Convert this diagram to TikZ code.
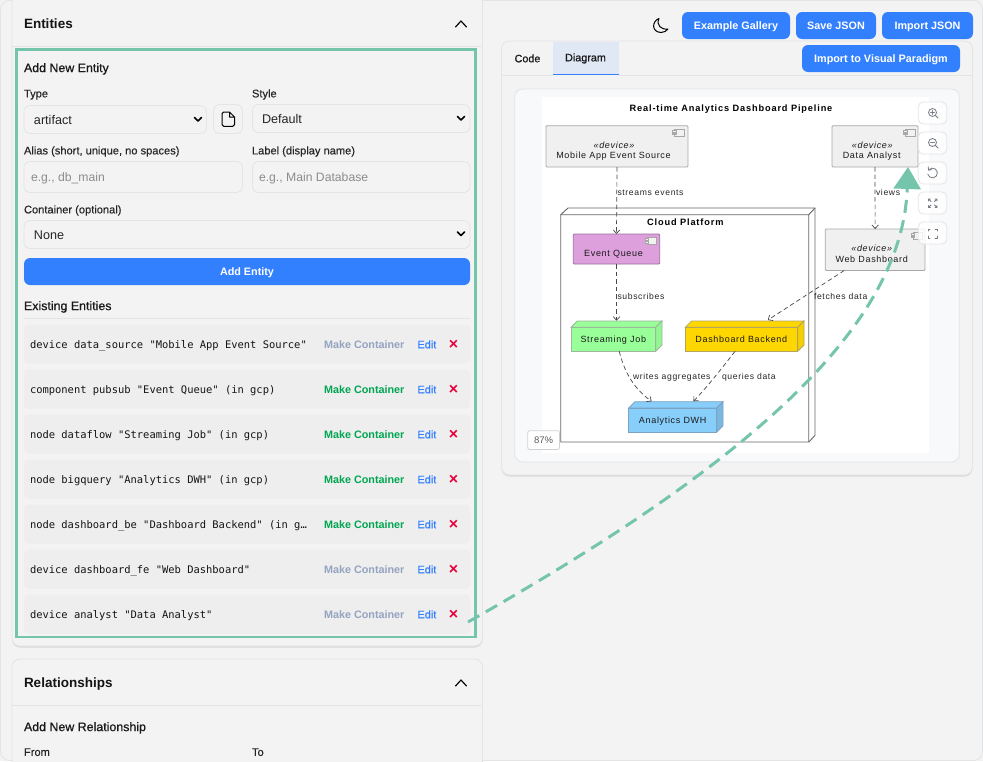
\documentclass[tikz,border=0pt]{standalone}
\usepackage{fontspec}
\usetikzlibrary{arrows.meta,calc,shadows}
\setmainfont{Liberation Sans}
\newfontfamily\medf[FakeBold=0.2]{Liberation Sans}
\newfontfamily\semif[FakeBold=0.7]{Liberation Sans}
\newfontfamily\monof{DejaVu Sans Mono}
\newfontfamily\diaf[LetterSpace=7.5]{Liberation Sans}
\newfontfamily\diab[LetterSpace=9.4,BoldFont={Liberation Sans Bold}]{Liberation Sans}
\newcommand{\fsz}[1]{\fontsize{#1}{#1}\selectfont}
\definecolor{pagebg}{HTML}{F3F3F4}
\definecolor{edgeg}{HTML}{E3E4E6}
\definecolor{accent}{HTML}{74C5AC}
\definecolor{uiblue}{HTML}{3380FF}
\definecolor{rowbg}{HTML}{EEEEEF}
\definecolor{mute}{HTML}{94A3BF}
\definecolor{okgreen}{HTML}{00A650}
\definecolor{xred}{HTML}{E8003A}
\definecolor{hint}{HTML}{8C8C8C}
\definecolor{cardbg}{HTML}{F8F9FB}
\definecolor{boxline}{HTML}{A8A8A8}
\definecolor{iconc}{HTML}{777C85}
\definecolor{tabbg}{HTML}{E0E7F5}
\definecolor{queuefill}{HTML}{DDA0DD}
\definecolor{queueline}{HTML}{9A709A}
\definecolor{jobfill}{HTML}{99FF99}
\definecolor{jobside}{HTML}{93F593}
\definecolor{jobline}{HTML}{9DB89D}
\definecolor{bkfill}{HTML}{FFD700}
\definecolor{bkside}{HTML}{F5CF00}
\definecolor{bkline}{HTML}{B3A560}
\definecolor{dwhfill}{HTML}{87CEFA}
\definecolor{dwhside}{HTML}{7AB8E0}
\definecolor{dwhline}{HTML}{7BA3C4}
\newcounter{tn}
\newcommand{\T}[4]{\stepcounter{tn}\node[#1] (t\arabic{tn}) at (#2,#3) {#4};}
\newcommand{\N}[7]{\node[box,#2,minimum width={(#5-#3)*1pt},minimum height={(#6-#4)*1pt}] (#1) at ({(#3+#5)/2},{(#4+#6)/2}) {#7};}
\newcommand{\CompIcon}[2]{%
  \draw[boxline,line width=.8pt,fill=black!5] (#1-9.5,#2) rectangle (#1,#2+7);
  \draw[boxline,line width=.7pt,fill=black!5] (#1-11.5,#2+1.2) rectangle (#1-8,#2+3);
  \draw[boxline,line width=.7pt,fill=black!5] (#1-11.5,#2+4) rectangle (#1-8,#2+5.8);}
\newcommand{\Cube}[9]{%
  \filldraw[draw=#9,fill=#7,line width=.8pt] (#2,#3) -- (#2+#6,#3-#6) -- (#4+#6,#3-#6) -- (#4,#3) -- cycle;
  \filldraw[draw=#9,fill=#8,line width=.8pt] (#4,#3) -- (#4+#6,#3-#6) -- (#4+#6,#5-#6) -- (#4,#5) -- cycle;
  \N{#1}{draw=#9,fill=#7,line width=.8pt}{#2}{#3}{#4}{#5}{}}
\tikzset{
  box/.style={rectangle,inner sep=0pt,outer sep=0pt},
  lefttext/.style={anchor=base west,inner sep=0pt,outer sep=0pt},
  midtext/.style={anchor=base,inner sep=0pt,outer sep=0pt},
  cardtitle/.style={lefttext,yshift=-5.2pt,font=\bfseries\fsz{13.5},text=black!92},
  subtitle/.style={lefttext,yshift=-4.6pt,font=\semif\fsz{12.4},text=black!90},
  fieldlabel/.style={lefttext,yshift=-3.9pt,font=\medf\fsz{11.1},text=black!85},
  fieldval/.style={lefttext,yshift=-4.9pt,font=\fsz{12.6},text=black!85},
  placeholder/.style={lefttext,yshift=-4.7pt,font=\fsz{12.2},text=hint},
  field/.style={draw=edgeg,fill=pagebg,line width=.8pt,rounded corners=5.5pt},
  card/.style={draw=edgeg,fill=pagebg,line width=.8pt,rounded corners=8pt,drop shadow={shadow xshift=0pt,shadow yshift=-1.5pt,opacity=.22}},
  bluebtn/.style={fill=uiblue,rounded corners=6pt,text=white,font=\bfseries\fsz{10.8},text height=8pt,text depth=0pt},
  rowbox/.style={fill=rowbg,rounded corners=4pt},
  monotext/.style={lefttext,yshift=-4.3pt,font=\monof\fsz{10.45},text=black!92},
  actmute/.style={lefttext,yshift=-4.3pt,font=\bfseries\fsz{10.8},text=mute},
  actgreen/.style={lefttext,yshift=-4.3pt,font=\bfseries\fsz{10.8},text=okgreen},
  actedit/.style={lefttext,yshift=-4.3pt,font=\semif\fsz{10.9},text=uiblue},
  actx/.style={midtext,yshift=-5.4pt,font=\bfseries\fsz{16},text=xred},
  tabtext/.style={midtext,yshift=-3.8pt,font=\semif\fsz{10.8},text=black!90},
  dtext/.style={midtext,font=\diaf\fsz{9},text=black!90},
  dedge/.style={lefttext,yshift=-3pt,font=\diaf\fsz{8.6},text=black!85},
  dtitle/.style={midtext,font=\diab\bfseries\fsz{9.2},text=black},
  flow/.style={draw=black!72,line width=.7pt,dash pattern=on 4.5pt off 3pt,-{Straight Barb[length=3.5pt,width=6.5pt]}},
  chev/.style={draw=black,line width=1.15pt,line cap=round,line join=round},
  selchev/.style={draw=black,line width=1.6pt,line cap=round,line join=round},
  devbox/.style={draw=boxline,fill=black!6,line width=.8pt,rounded corners=1pt},
  toolbtn/.style={fill=white,fill opacity=.82,draw=black!10,line width=.8pt,rounded corners=5pt},
  toolico/.style={draw=iconc,line width=.8pt,line cap=round},
}
\begin{document}
\begin{tikzpicture}[x=1pt,y=-1pt]
\useasboundingbox (0,0) rectangle (983,761);
\clip (0,0) rectangle (983,761);
\fill[pagebg] (0,0) rectangle (983,761);
\draw[edgeg,line width=.8pt,rounded corners=9pt] (.5,.5) rectangle (982.5,760.5);

% ---- left: Entities card
\N{entcard}{card}{12}{-6}{482.5}{646}{}
\draw[edgeg,line width=.8pt] (12,46.5) -- (482.5,46.5);
\T{cardtitle}{24}{23.5}{Entities}
\draw[chev] (455.5,27) -- (461,21) -- (466.5,27);
\T{subtitle}{24}{67.5}{Add New Entity}
\T{fieldlabel}{24}{93.5}{Type}
\T{fieldlabel}{252}{93.5}{Style}
\N{seltype}{field}{24}{105.5}{206.5}{133.5}{}
\T{fieldval}{34}{119.5}{artifact}
\draw[selchev] (194.5,117.5) -- (198,121) -- (201.5,117.5);
\N{docbtn}{field}{213.5}{104.5}{242.5}{133.5}{}
\draw[black,line width=1pt,line join=round] (229.5,112) -- (223.7,112) .. controls (222.5,112) and (222,112.5) .. (222,113.7) -- (222,124.6) .. controls (222,125.8) and (222.5,126.3) .. (223.7,126.3) -- (232.8,126.3) .. controls (234,126.3) and (234.5,125.8) .. (234.5,124.6) -- (234.5,117) -- (229.5,112) -- (229.5,117) -- (234.5,117);
\N{selstyle}{field}{252.5}{104.5}{470}{132.5}{}
\T{fieldval}{262}{118.5}{Default}
\draw[selchev] (457.5,116.5) -- (461,120) -- (464.5,116.5);
\T{fieldlabel}{24}{150.5}{Alias (short, unique, no spaces)}
\T{fieldlabel}{252}{150.5}{Label (display name)}
\N{inalias}{field}{24}{161.5}{242.5}{192.5}{}
\T{placeholder}{31}{177}{e.g., db\_main}
\N{inlabel}{field}{252.5}{161.5}{470}{192.5}{}
\T{placeholder}{259}{177}{e.g., Main Database}
\T{fieldlabel}{24}{209.5}{Container (optional)}
\N{selcont}{field}{24}{220.5}{470}{248.5}{}
\T{fieldval}{34}{234.5}{None}
\draw[selchev] (457.5,232) -- (461,235.5) -- (464.5,232);
\N{addbtn}{bluebtn}{24}{258}{470}{285}{Add Entity}
\T{subtitle}{24}{305.5}{Existing Entities}
\draw[edgeg,line width=.8pt] (24,318.7) -- (470,318.7);
\foreach \yc/\txt/\act in {
  344/{device data\_source "Mobile App Event Source"}/actmute,
  389/{component pubsub "Event Queue" (in gcp)}/actgreen,
  434/{node dataflow "Streaming Job" (in gcp)}/actgreen,
  479/{node bigquery "Analytics DWH" (in gcp)}/actgreen,
  524/{node dashboard\_be "Dashboard Backend" (in g…}/actgreen,
  569/{device dashboard\_fe "Web Dashboard"}/actmute,
  614/{device analyst "Data Analyst"}/actmute}{
  \fill[rowbox] (24,\yc-19.5) rectangle (470,\yc+19.5);
  \T{monotext}{30}{\yc}{\txt}
  \T{\act}{324}{\yc}{Make Container}
  \T{actedit}{417.5}{\yc}{Edit}
  \T{actx}{453.5}{\yc}{×}
}
% ---- left: Relationships card
\N{relcard}{card}{12}{659}{482.5}{790}{}
\draw[edgeg,line width=.8pt] (12,705.5) -- (482.5,705.5);
\T{cardtitle}{24}{682}{Relationships}
\draw[chev] (455.5,686) -- (461,680) -- (466.5,686);
\T{subtitle}{24}{726.5}{Add New Relationship}
\T{fieldlabel}{24}{752}{From}
\T{fieldlabel}{252}{752}{To}

% ---- top right buttons
\draw[black,line width=1pt,line join=round] (659,18.5) .. controls (652,21) and (651,32) .. (661,32.5) .. controls (664,32.5) and (666.5,31) .. (668,29) .. controls (661,30) and (656,25) .. (659,18.5) -- cycle;
\N{gallery}{bluebtn}{682}{12}{790}{39}{Example Gallery}
\N{savejson}{bluebtn}{796}{12}{876}{39}{Save JSON}
\N{impjson}{bluebtn}{882}{12}{973}{39}{Import JSON}

% ---- right panel
\N{panel}{card}{501.5}{41}{972.5}{475}{}
\fill[tabbg] (553,41.5) rectangle (619,75);
\draw[uiblue,line width=1pt] (553,74.7) -- (619,74.7);
\draw[edgeg,line width=.8pt] (501.5,75.5) -- (553,75.5) (619,75.5) -- (972.5,75.5);
\T{tabtext}{527.5}{58.5}{Code}
\T{tabtext}{585.5}{57.5}{Diagram}
\N{impvp}{bluebtn}{802}{45}{960}{72}{Import to Visual Paradigm}
\N{inner}{draw=edgeg,fill=cardbg,line width=.8pt,rounded corners=8pt}{514.7}{89}{959.3}{462}{}
\fill[white] (541.7,96.7) rectangle (929,452.7);

% ---- diagram
\T{dtitle}{731}{111.7}{Real-time Analytics Dashboard Pipeline}
\N{mobile}{devbox}{546}{125.7}{688}{167}{}
\CompIcon{684.3}{129}
\T{dtext}{614}{148.3}{\itshape «device»}
\T{dtext}{613.5}{158.3}{Mobile App Event Source}
\N{analyst}{devbox}{832}{125.7}{918}{167}{}
\CompIcon{915}{129}
\T{dtext}{872.3}{148.3}{\itshape «device»}
\T{dtext}{871.7}{158.3}{Data Analyst}

\filldraw[draw=black!60,fill=white,line width=.9pt] (560.7,214.7) -- (568,208) -- (815,208) -- (815,435.5) -- (808.7,442) -- (560.7,442) -- cycle;
\draw[black!60,line width=.9pt] (560.7,214.7) -- (808.7,214.7) -- (815,208) (808.7,214.7) -- (808.7,442);
\T{dtitle}{685.3}{225}{Cloud Platform}

\N{web}{devbox}{825.3}{229}{925}{270.5}{}
\CompIcon{922.7}{232}
\T{dtext}{871.7}{251.7}{\itshape «device»}
\T{dtext}{871.7}{262.3}{Web Dashboard}

\N{queue}{draw=queueline,fill=queuefill,line width=.8pt,rounded corners=1pt}{573.3}{234}{659.7}{264}{}
\CompIcon{656.7}{237.5}
\T{dtext}{613.5}{256.3}{Event Queue}

\Cube{job}{571}{327.3}{655.7}{351.3}{6.3}{jobfill}{jobside}{jobline}
\T{dtext}{613.3}{342.3}{Streaming Job}
\Cube{backend}{685.3}{327.3}{797.7}{351.3}{6.3}{bkfill}{bkside}{bkline}
\T{dtext}{741.3}{342.3}{Dashboard Backend}
\Cube{dwh}{628.7}{408}{716.7}{432}{6.3}{dwhfill}{dwhside}{dwhline}
\T{dtext}{672.7}{423.3}{Analytics DWH}

\draw[flow] (mobile.south) -- (queue.north);
\draw[flow] (queue.south) -- ($(queue.south |- job.north)+(0,-6.6)$);
\draw[flow] (analyst.south) -- (web.north);
\draw[flow] ($(web.south west)!.19!(web.south east)$) -- ($(backend.north west)!.735!(backend.north east)+(0,-7.3)$);
\draw[flow] ($(job.south west)!.57!(job.south east)$) .. controls (623,366) and (630,386) .. ($(dwh.north west)!.26!(dwh.north east)+(0,-6.7)$);
\draw[flow] ($(backend.south west)!.443!(backend.south east)$) .. controls (722,368) and (708,386) .. ($(dwh.north west)!.736!(dwh.north east)+(0,-6.7)$);
\T{dedge}{617.5}{192.3}{streams events}
\T{dedge}{876}{192.3}{views}
\T{dedge}{617.5}{296}{subscribes}
\T{dedge}{814}{296}{fetches data}
\T{dedge}{633}{376}{writes aggregates}
\T{dedge}{722}{376}{queries data}

% ---- tool buttons
\N{zoomin}{toolbtn}{918.3}{102}{946.7}{124}{}
\N{zoomout}{toolbtn}{918.3}{132}{946.7}{154}{}
\N{resetv}{toolbtn}{918.3}{162}{946.7}{184}{}
\N{fitv}{toolbtn}{918.3}{192}{946.7}{214}{}
\N{fullv}{toolbtn}{918.3}{222}{946.7}{244}{}
\draw[toolico] (932.5,112.5) circle (4) (935.5,115.5) -- (938,118) (930.5,112.5) -- (934.5,112.5) (932.5,110.5) -- (932.5,114.5);
\draw[toolico] (932.5,142.5) circle (4) (935.5,145.5) -- (938,148) (930.5,142.5) -- (934.5,142.5);
\draw[toolico] (928.6,170.05) arc (217:527:4.9);
\draw[toolico] (928.2,166.8) -- (928.6,170.05) -- (931.8,169.7);
\draw[toolico] (928.5,199) -- (931,201.5) (928.5,199) -- (928.5,201) (928.5,199) -- (930.5,199)
  (937,199) -- (934.5,201.5) (937,199) -- (937,201) (937,199) -- (935,199)
  (928.5,207.5) -- (931,205) (928.5,207.5) -- (928.5,205.5) (928.5,207.5) -- (930.5,207.5)
  (937,207.5) -- (934.5,205) (937,207.5) -- (937,205.5) (937,207.5) -- (935,207.5);
\draw[toolico] (928,231) -- (928,229) -- (930,229) (935,229) -- (937,229) -- (937,231) (937,236) -- (937,238) -- (935,238) (930,238) -- (928,238) -- (928,236);
\N{pct}{draw=black!18,fill=white,line width=.8pt,rounded corners=2pt,font=\fsz{9.5},text=black!65}{527.7}{430.7}{559.5}{449.5}{87\%}

% ---- callout
\N{entbox}{draw=accent,line width=2.8pt}{16.3}{49.5}{475.5}{637}{}
\coordinate (calloutstart) at (468,622);
\coordinate (callouttip) at (908,167);
\draw[accent,line width=3pt,dash pattern=on 13pt off 7.5pt,-{Triangle[length=22pt,width=27pt]}] (calloutstart) .. controls (742,467) and (902,330) .. (callouttip);
\end{tikzpicture}
\end{document}
